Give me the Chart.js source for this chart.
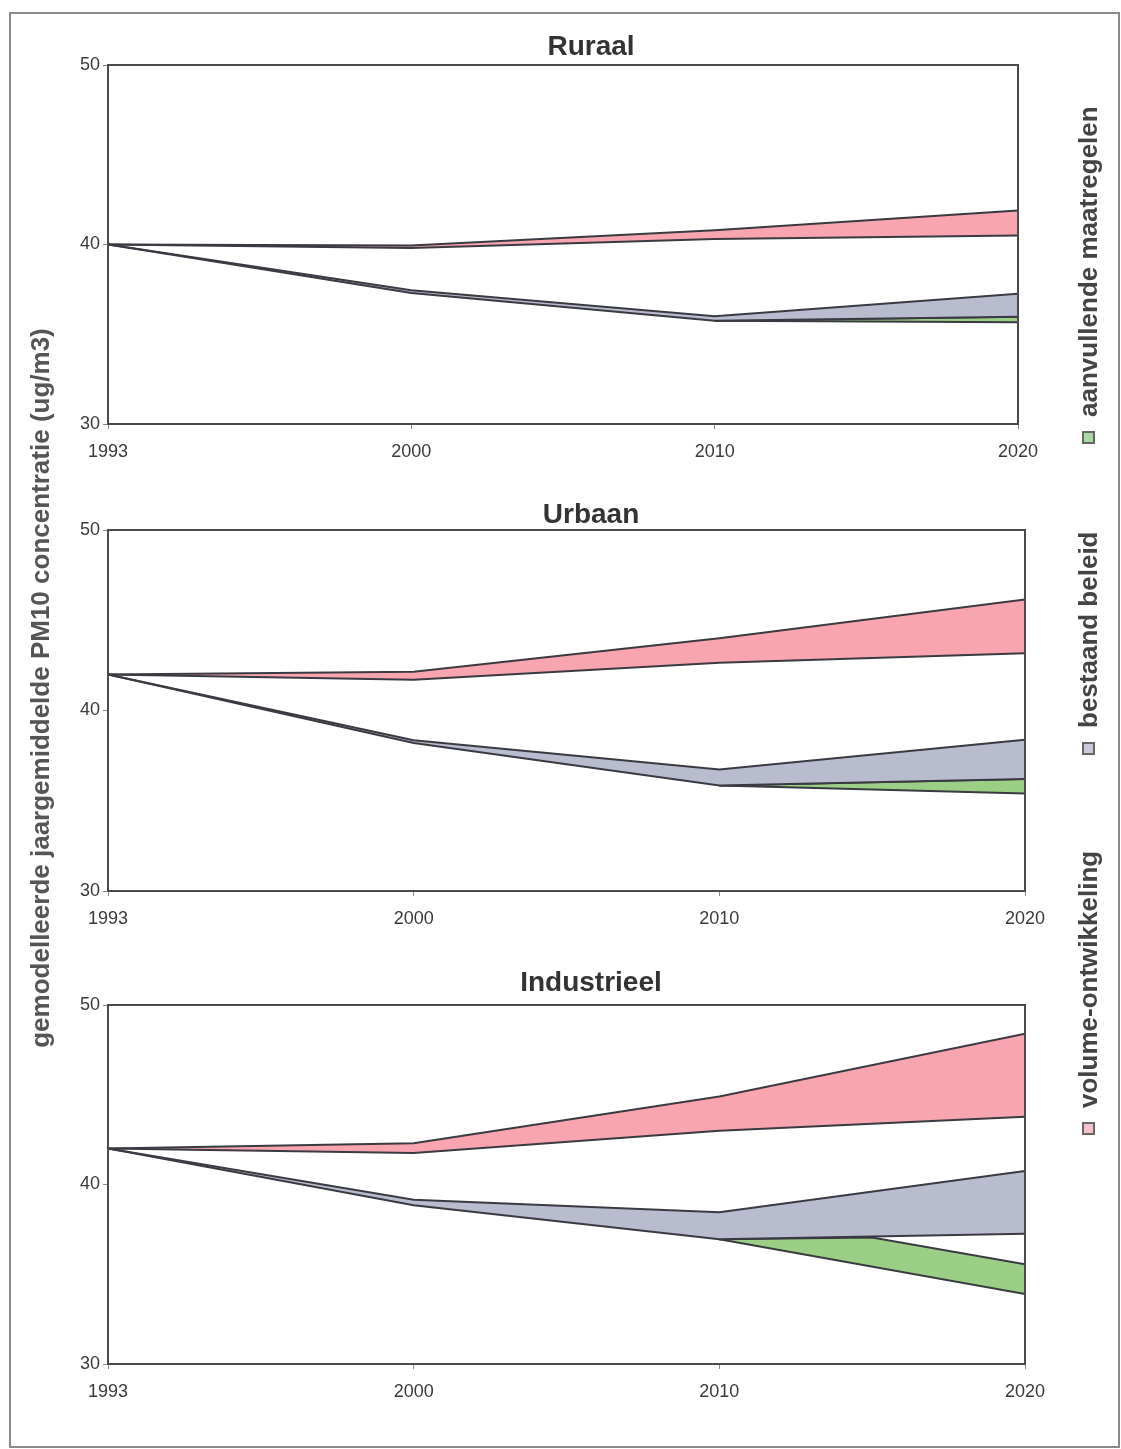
<!DOCTYPE html>
<html>
<head>
<meta charset="utf-8">
<script src="https://cdn.jsdelivr.net/npm/chart.js@4.4.1/dist/chart.umd.min.js"></script>
<style>
html,body{margin:0;padding:0;background:#fff;width:1121px;height:1449px;overflow:hidden;}
#page{position:relative;width:1121px;height:1449px;overflow:hidden;font-family:'Liberation Sans',Arial,Helvetica,sans-serif;}
.frame{position:absolute;left:9px;top:12px;width:1107px;height:1432px;border:2px solid #8a8a8a;box-sizing:content-box;}
.panel{position:absolute;left:0;}
.ylab{position:absolute;left:-410px;top:673px;width:900px;height:30px;line-height:30px;text-align:center;
  font-size:26px;font-weight:bold;color:#555;transform:rotate(-90deg);transform-origin:center center;white-space:nowrap;}
.leg{position:absolute;height:30px;line-height:30px;display:flex;align-items:center;white-space:nowrap;
  transform:rotate(-90deg);transform-origin:left center;font-size:26px;font-weight:bold;color:#444;}
.leg .sw{width:9px;height:9px;border:2px solid #666;margin-right:14px;flex:none;}
</style>
</head>
<body>
<div id="page">
  <div class="frame"></div>
  <div class="panel" style="top:32px"><canvas id="c1" width="1182" height="432"></canvas></div>
  <div class="panel" style="top:500px"><canvas id="c2" width="1182" height="431"></canvas></div>
  <div class="panel" style="top:968px"><canvas id="c3" width="1182" height="436"></canvas></div>
  <div class="ylab" id="ylab"></div>
  <div id="legend"></div>
</div>
<script>
// ---- data ----
const tickYears = ['1993', '2000', '2010', '2020'];
const pointYears = [1993, 2000, 2010, 2015, 2020];
const panelTitles = ['Ruraal', 'Urbaan', 'Industrieel'];
const yAxisTitle = 'gemodelleerde jaargemiddelde PM10 concentratie (ug/m3)';
const seriesNames = ['volume-ontwikkeling', 'bestaand beleid', 'aanvullende maatregelen'];

// Ruraal
const ruraalVolumeLow   = [40, 39.8, 40.3, null, 40.5];
const ruraalVolumeHigh  = [40, 39.95, 40.8, null, 41.9];
const ruraalBeleidLow   = [40, 37.3, 35.75, null, 35.97];
const ruraalBeleidHigh  = [40, 37.45, 36.0, null, 37.25];
const ruraalMaatrLow    = [null, null, 35.75, null, 35.67];
const ruraalMaatrHigh   = [null, null, 35.75, null, 35.97];
// Urbaan
const urbaanVolumeLow   = [42, 41.7, 42.65, null, 43.17];
const urbaanVolumeHigh  = [42, 42.15, 44.0, null, 46.15];
const urbaanBeleidLow   = [42, 38.2, 35.85, null, 36.2];
const urbaanBeleidHigh  = [42, 38.35, 36.73, null, 38.38];
const urbaanMaatrLow    = [null, null, 35.85, null, 35.4];
const urbaanMaatrHigh   = [null, null, 35.85, null, 36.2];
// Industrieel
const induVolumeLow     = [42, 41.75, 43.0, null, 43.77];
const induVolumeHigh    = [42, 42.3, 44.9, null, 48.4];
const induBeleidLow     = [42, 38.85, 36.95, null, 37.25];
const induBeleidHigh    = [42, 39.15, 38.45, null, 40.75];
const induMaatrLow      = [null, null, 36.95, null, 33.9];
const induMaatrHigh     = [null, null, 36.95, 37.05, 35.55];

const yTicks = [30, 40, 50];

// ---- styles ----
const FONT = "'Liberation Sans', Arial, Helvetica, sans-serif";
const LINE = '#3a3a42';
const fills = ['#f9a5b0', '#b9bccf', '#9ccf86'];
const swatches = ['#f6c2c9', '#c9cad8', '#a9d9a2'];

// equally spaced tick years on the axis; position of any year between them
function yearPos(yr) {
  const t = tickYears.map(Number);
  for (let i = 0; i < t.length - 1; i++) {
    if (yr >= t[i] && yr <= t[i + 1]) return i + (yr - t[i]) / (t[i + 1] - t[i]);
  }
  return t.length - 1;
}
function pts(arr) {
  return pointYears.map((yr, i) => arr[i] == null ? null : {x: yearPos(yr), y: arr[i]}).filter(Boolean);
}

const boxPlugin = {
  id: 'box',
  afterDatasetsDraw(chart) {
    const a = chart.chartArea, ctx = chart.ctx;
    ctx.save();
    ctx.strokeStyle = '#4a4a4a';
    ctx.lineWidth = 2;
    ctx.strokeRect(a.left, a.top, a.right - a.left, a.bottom - a.top);
    ctx.restore();
  }
};

function makePanel(id, title, padBottom, rightW, bands) {
  const datasets = [];
  bands.forEach((b, k) => {
    datasets.push({label: seriesNames[k] + ' (onder)', data: pts(b[0]), fill: false,
      borderColor: LINE, borderWidth: 2, pointRadius: 0, tension: 0});
    datasets.push({label: seriesNames[k], data: pts(b[1]), fill: '-1', backgroundColor: fills[k],
      borderColor: LINE, borderWidth: 2, pointRadius: 0, tension: 0});
  });
  new Chart(document.getElementById(id), {
    type: 'line',
    data: {datasets},
    options: {
      responsive: false,
      animation: false,
      devicePixelRatio: 1,
      layout: {padding: 0},
      plugins: {
        legend: {display: false},
        tooltip: {enabled: false},
        title: {display: true, text: title, color: '#333', fullSize: true,
          font: {family: FONT, size: 28, weight: 'bold', lineHeight: 30 / 28},
          padding: {top: 0, bottom: padBottom}}
      },
      scales: {
        x: {
          type: 'linear', min: 0, max: tickYears.length - 1,
          afterBuildTicks: s => { s.ticks = tickYears.map((_, i) => ({value: i})); },
          afterFit: s => { s.height = 40; },
          ticks: {callback: v => tickYears[v], color: '#3a3a3a', font: {family: FONT, size: 18},
            padding: 12, maxRotation: 0, autoSkip: false},
          grid: {display: true, drawOnChartArea: false, drawTicks: true, tickLength: 5, color: '#888', lineWidth: 1},
          border: {display: false}
        },
        y: {
          type: 'linear', min: 30, max: 50, position: 'left',
          afterBuildTicks: s => { s.ticks = yTicks.map(v => ({value: v})); },
          afterFit: s => { s.width = 108; },
          ticks: {color: '#3a3a3a', font: {family: FONT, size: 18}, padding: 3},
          grid: {display: true, drawOnChartArea: false, drawTicks: true, tickLength: 5, color: '#888', lineWidth: 1},
          border: {display: false}
        },
        yR: {
          type: 'linear', position: 'right', display: true, min: 0, max: 1,
          afterFit: s => { s.width = rightW; },
          ticks: {display: false},
          grid: {display: false},
          border: {display: false}
        }
      }
    },
    plugins: [boxPlugin]
  });
}

makePanel('c1', panelTitles[0], 3, 164, [
  [ruraalVolumeLow, ruraalVolumeHigh], [ruraalBeleidLow, ruraalBeleidHigh], [ruraalMaatrLow, ruraalMaatrHigh]]);
makePanel('c2', panelTitles[1], 0, 157, [
  [urbaanVolumeLow, urbaanVolumeHigh], [urbaanBeleidLow, urbaanBeleidHigh], [urbaanMaatrLow, urbaanMaatrHigh]]);
makePanel('c3', panelTitles[2], 7, 157, [
  [induVolumeLow, induVolumeHigh], [induBeleidLow, induBeleidHigh], [induMaatrLow, induMaatrHigh]]);

document.getElementById('ylab').textContent = yAxisTitle;

// rotated legend (reads bottom to top), bottom edge y for each item
const legBottoms = [1135, 755, 444];
const legendEl = document.getElementById('legend');
seriesNames.forEach((name, k) => {
  const d = document.createElement('div');
  d.className = 'leg';
  d.style.left = '1088px';
  d.style.top = (legBottoms[k] - 15) + 'px';
  const sw = document.createElement('span');
  sw.className = 'sw';
  sw.style.background = swatches[k];
  const tx = document.createElement('span');
  tx.textContent = name;
  d.appendChild(sw); d.appendChild(tx);
  legendEl.appendChild(d);
});
</script>
</body>
</html>
